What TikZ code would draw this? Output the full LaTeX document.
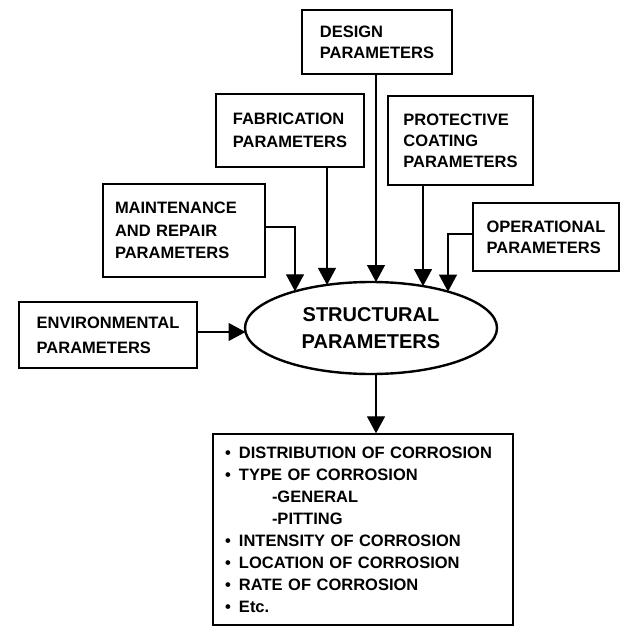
\documentclass[tikz,border=0pt]{standalone}
\usepackage{fontspec}
\setmainfont{Liberation Sans}
\usetikzlibrary{arrows.meta,shapes.geometric,calc}
\begin{document}
\begin{tikzpicture}[x=1pt,y=-1pt,
  box/.style={draw, line width=1.4pt, inner sep=0pt, align=left,
    font=\fontsize{16.5}{21}\selectfont\bfseries},
  arr/.style={line width=1.3pt, -{Triangle[length=17pt,width=18pt]}}]
\fill[white] (0,0) rectangle (621,628);
\useasboundingbox (0,0) rectangle (621,628);

\node[box, minimum width=150pt, minimum height=64pt] (des) at (377,42) {DESIGN\\PARAMETERS};
\node[box, minimum width=148pt, minimum height=73pt, font=\fontsize{16.5}{23}\selectfont\bfseries] (fab) at (290,130.5) {FABRICATION\\PARAMETERS};
\node[box, minimum width=145pt, minimum height=89pt] (pro) at (460.5,140.5) {PROTECTIVE\\COATING\\PARAMETERS};
\node[box, minimum width=162pt, minimum height=93pt, inner xsep=12pt, text width=138pt, font=\fontsize{16.5}{22.5}\selectfont\bfseries] (mai) at (184,230.5) {MAINTENANCE\\AND REPAIR\\PARAMETERS};
\node[box, minimum width=146pt, minimum height=68pt] (op) at (546,237) {OPERATIONAL\\PARAMETERS};
\node[box, minimum width=178pt, minimum height=66pt, font=\fontsize{16.5}{25}\selectfont\bfseries] (env) at (108,335) {ENVIRONMENTAL\\PARAMETERS};

\node[draw, ellipse, line width=2.4pt, minimum width=252pt, minimum height=92pt, inner sep=0pt, align=center,
  font=\fontsize{20}{27}\selectfont\bfseries] (ell) at (371,328) {STRUCTURAL\\PARAMETERS};

\node[box, minimum width=300pt, minimum height=191pt, inner xsep=12pt, text width=276pt,
  font=\fontsize{16.5}{22}\selectfont\bfseries] (list) at (363,529.5)
 {\makebox[14pt][l]{•}DISTRIBUTION OF CORROSION\\
  \makebox[14pt][l]{•}TYPE OF CORROSION\\
  \hspace*{47pt}-GENERAL\\
  \hspace*{47pt}-PITTING\\
  \makebox[14pt][l]{•}INTENSITY OF CORROSION\\
  \makebox[14pt][l]{•}LOCATION OF CORROSION\\
  \makebox[14pt][l]{•}RATE OF CORROSION\\
  \makebox[14pt][l]{•}Etc.};

\coordinate (tM) at ($(ell.center)+(-76,-36.7)$);
\coordinate (tF) at ($(ell.center)+(-44,-43.1)$);
\coordinate (tD) at ($(ell.center)+(5,-46)$);
\coordinate (tP) at ($(ell.center)+(52,-41.9)$);
\coordinate (tO) at ($(ell.center)+(77,-36.4)$);
\coordinate (tE) at ($(ell.center)+(-125.5,4)$);
\coordinate (bt) at ($(list.north)+(13,0)$);

\draw[arr] (des.south -| tD) -- (tD);
\draw[arr] (fab.south -| tF) -- (tF);
\draw[arr] (pro.south -| tP) -- (tP);
\draw[arr] ($(mai.east)+(0,-3.5)$) -| (tM);
\draw[arr] ($(op.west)+(0,-3)$) -| (tO);
\draw[arr] ($(env.east)+(0,-3)$) -- (tE);
\draw[arr] (ell.south -| bt) -- (bt);
\end{tikzpicture}
\end{document}
